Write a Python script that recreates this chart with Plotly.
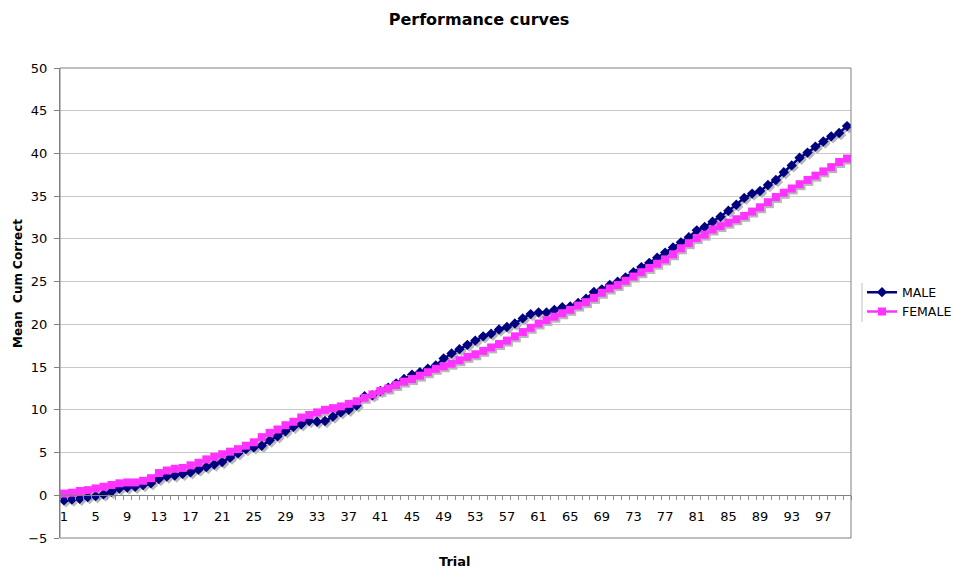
import plotly.graph_objects as go

trials = list(range(1, 101))

male = [-0.6, -0.5, -0.4, -0.2, -0.1, 0.1, 0.4, 0.8, 0.9, 1.0,
        1.2, 1.4, 1.9, 2.2, 2.3, 2.5, 2.7, 3.0, 3.3, 3.6,
        3.9, 4.4, 4.9, 5.4, 5.6, 5.8, 6.4, 6.9, 7.5, 8.0,
        8.3, 8.7, 8.6, 8.7, 9.2, 9.7, 10.0, 10.5, 11.6, 11.7,
        12.2, 12.6, 13.1, 13.6, 14.1, 14.4, 14.8, 15.2, 16.0, 16.6,
        17.1, 17.6, 18.1, 18.6, 18.9, 19.4, 19.7, 20.1, 20.7, 21.2,
        21.4, 21.4, 21.7, 22.0, 22.1, 22.5, 23.0, 23.8, 24.1, 24.6,
        25.0, 25.5, 26.1, 26.7, 27.2, 27.8, 28.4, 29.0, 29.6, 30.2,
        31.0, 31.4, 32.0, 32.6, 33.3, 34.0, 34.8, 35.3, 35.6, 36.3,
        36.9, 37.8, 38.6, 39.5, 40.1, 40.8, 41.4, 42.0, 42.4, 43.2]

female = [0.2, 0.3, 0.5, 0.6, 0.8, 1.0, 1.2, 1.4, 1.5, 1.5,
          1.7, 2.0, 2.6, 2.9, 3.1, 3.2, 3.5, 3.8, 4.2, 4.5,
          4.8, 5.1, 5.4, 5.8, 6.2, 6.8, 7.3, 7.7, 8.2, 8.6,
          9.1, 9.4, 9.7, 10.0, 10.2, 10.4, 10.7, 11.0, 11.4, 11.8,
          12.2, 12.5, 12.9, 13.3, 13.6, 14.0, 14.4, 14.8, 15.1, 15.4,
          15.8, 16.2, 16.5, 16.9, 17.3, 17.7, 18.1, 18.6, 19.1, 19.6,
          20.1, 20.5, 20.9, 21.3, 21.7, 22.2, 22.6, 23.1, 23.7, 24.2,
          24.6, 25.1, 25.6, 26.1, 26.6, 27.1, 27.6, 28.2, 28.9, 29.5,
          30.1, 30.5, 31.1, 31.5, 31.9, 32.3, 32.7, 33.2, 33.7, 34.3,
          34.9, 35.4, 35.9, 36.4, 36.9, 37.4, 37.9, 38.4, 39.0, 39.4]

tick_vals = [1, 5, 9, 13, 17, 21, 25, 29, 33, 37, 41, 45, 49, 53, 57, 61, 65, 69, 73, 77, 81, 85, 89, 93, 97]
tick_text = [str(v) for v in tick_vals]

FONT = "DejaVu Sans"
W, H = 954, 569
ML, MR, MT, MB = 60, 103, 68, 31
PW = W - ML - MR
PH = H - MT - MB
XR = [0.5, 100.5]
YR = [-5, 50]
# shadow offset of 2px expressed through axis ranges
dx = 2 * (XR[1] - XR[0]) / PW
dy = 2 * (YR[1] - YR[0]) / PH

SHADOW = "#b8b8b8"
NAVY = "#000080"
MAGENTA = "#FF33FF"

fig = go.Figure()

# invisible carrier so the base axes (ticks, grid) are drawn
fig.add_trace(go.Scatter(x=trials, y=male, mode="markers", marker=dict(opacity=0, size=1),
                         showlegend=False, hoverinfo="skip"))

# shadows on overlay axes x2/y2 (offset 2px via ranges)
fig.add_trace(go.Scatter(x=trials, y=male, xaxis="x2", yaxis="y2", mode="lines+markers",
                         line=dict(color=SHADOW, width=2.5),
                         marker=dict(symbol="diamond", size=8, color=SHADOW),
                         showlegend=False, hoverinfo="skip"))
fig.add_trace(go.Scatter(x=trials, y=female, xaxis="x2", yaxis="y2", mode="lines+markers",
                         line=dict(color=SHADOW, width=2.5),
                         marker=dict(symbol="square", size=8, color=SHADOW),
                         showlegend=False, hoverinfo="skip"))

# main series on x3/y3, above the shadows
fig.add_trace(go.Scatter(x=trials, y=male, name="MALE", mode="lines+markers",
                         xaxis="x3", yaxis="y3",
                         line=dict(color=NAVY, width=2.5),
                         marker=dict(symbol="diamond", size=8, color=NAVY)))
fig.add_trace(go.Scatter(x=trials, y=female, name="FEMALE", mode="lines+markers",
                         xaxis="x3", yaxis="y3",
                         line=dict(color=MAGENTA, width=2.5),
                         marker=dict(symbol="square", size=8, color=MAGENTA)))

fig.update_layout(
    width=W, height=H,
    margin=dict(l=ML, r=MR, t=MT, b=MB, pad=0, autoexpand=False),
    paper_bgcolor="white", plot_bgcolor="white",
    font=dict(family=FONT, size=13, color="#000000"),
    title=dict(text="<b>Performance curves</b>", x=479 / W, xref="container", xanchor="center",
               y=1 - 19 / H, yref="container", yanchor="middle",
               font=dict(family=FONT, size=16, color="#000000")),
    xaxis=dict(range=XR, anchor="free", position=5 / 55, showline=True, linecolor="#808080",
               linewidth=1, tickmode="array", tickvals=tick_vals, ticktext=tick_text,
               ticks="outside", ticklen=9, tickcolor="rgba(0,0,0,0)", showgrid=False,
               zeroline=False, tickfont=dict(family=FONT, size=13),
               minor=dict(tickmode="linear", tick0=0.5, dtick=1, ticks="outside", ticklen=4,
                          tickcolor="#909090", showgrid=False)),
    yaxis=dict(range=YR, tickmode="linear", tick0=-5, dtick=5, showgrid=True,
               gridcolor="#c8c8c8", gridwidth=1, showline=True, linecolor="#808080",
               ticks="outside", ticklen=5, tickcolor="#808080", zeroline=False,
               tickfont=dict(family=FONT, size=13), ticklabelstandoff=4),
    xaxis2=dict(range=[XR[0] - dx, XR[1] - dx], overlaying="x", visible=False, anchor="y2"),
    yaxis2=dict(range=[YR[0] + dy, YR[1] + dy], overlaying="y", visible=False, anchor="x2"),
    xaxis3=dict(range=XR, overlaying="x", visible=False, anchor="y3"),
    yaxis3=dict(range=YR, overlaying="y", visible=False, anchor="x3"),
    legend=dict(x=862 / W, xref="container", xanchor="left",
                y=(H - MB - 302) / PH, yanchor="middle",
                font=dict(family=FONT, size=12.5), bgcolor="rgba(0,0,0,0)", borderwidth=0,
                itemwidth=30, tracegroupgap=0),
    showlegend=True,
    shapes=[
        dict(type="rect", xref="paper", yref="paper", x0=0, x1=1, y0=0, y1=1,
             line=dict(color="#808080", width=1), layer="above"),
        dict(type="line", xref="paper", yref="paper",
             x0=(862 - ML) / PW, x1=(862 - ML) / PW,
             y0=(H - MB - 283) / PH, y1=(H - MB - 322) / PH,
             line=dict(color="#c0c0c0", width=1)),
    ],
    annotations=[
        dict(text="<b>Mean\u00a0\u00a0Cum Correct</b>", xref="paper", yref="paper",
             x=(18 - ML) / PW, y=(H - MB - 284) / PH, textangle=-90, showarrow=False,
             xanchor="center", yanchor="middle", font=dict(family=FONT, size=12)),
        dict(text="<b>Trial</b>", xref="paper", yref="paper",
             x=(455 - ML) / PW, y=(H - MB - 561) / PH, showarrow=False,
             xanchor="center", yanchor="middle", font=dict(family=FONT, size=13)),
    ],
)

fig.write_html("out.html")
